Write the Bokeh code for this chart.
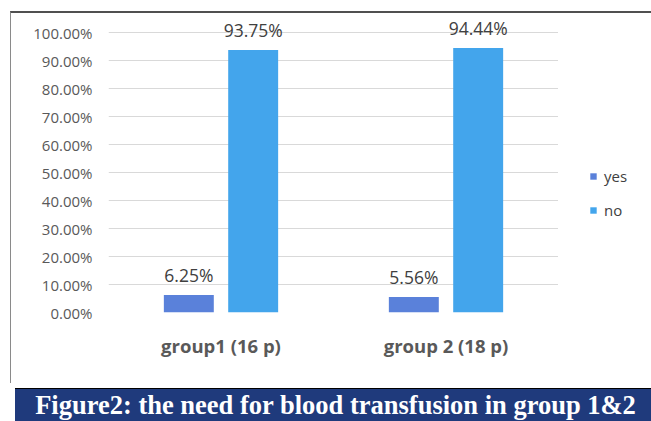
from bokeh.plotting import figure
from bokeh.models import (ColumnDataSource, FactorRange, FixedTicker, NumeralTickFormatter,
                          Legend, LegendItem, Range1d, Spacer, Div)
from bokeh.layouts import row, column
from bokeh.transform import dodge
from bokeh.core.properties import value
from bokeh.embed import file_html
from bokeh.resources import INLINE

# ---- data ----
groups = ["group1 (16 p)", "group 2 (18 p)"]
series = ["yes", "no"]
yes_vals = [0.0625, 0.0556]
no_vals = [0.9375, 0.9444]
y_ticks = [0.0, 0.1, 0.2, 0.3, 0.4, 0.5, 0.6, 0.7, 0.8, 0.9, 1.0]
caption = "Figure2: the need for blood transfusion in group 1&amp;2"

yes_color = "#5A81DA"
no_color = "#43A5EC"

src = ColumnDataSource(dict(
    group=groups,
    yes=yes_vals,
    no=no_vals,
    yes_lbl=[f"{v * 100:.2f}%" for v in yes_vals],
    no_lbl=[f"{v * 100:.2f}%" for v in no_vals],
))

FONT = "Open Sans"

p = figure(x_range=FactorRange(*groups, range_padding=0), y_range=Range1d(0, 1.05),
           width=547, height=370, output_backend="svg", toolbar_location=None,
           min_border_left=97, min_border_right=0, min_border_top=5, min_border_bottom=71)
p.outline_line_color = None
p.background_fill_color = "white"

off = 0.143
bw = 0.222
r_yes = p.vbar(x=dodge("group", -off, range=p.x_range), top="yes", width=bw, source=src,
               fill_color=yes_color, line_color=None)
r_no = p.vbar(x=dodge("group", off, range=p.x_range), top="no", width=bw, source=src,
              fill_color=no_color, line_color=None)

for col, lbl, d in (("yes", "yes_lbl", -off), ("no", "no_lbl", off)):
    p.text(x=dodge("group", d, range=p.x_range), y=col, text=lbl, source=src,
           text_align="center", text_baseline="bottom", y_offset=-8,
           text_font=value(FONT), text_font_size="17.5px", text_color="#404040")

# axes
p.yaxis.ticker = FixedTicker(ticks=y_ticks)
p.yaxis.formatter = NumeralTickFormatter(format="0.00%")
p.yaxis.axis_line_color = None
p.yaxis.major_tick_line_color = None
p.yaxis.minor_tick_line_color = None
p.yaxis.major_tick_in = 0
p.yaxis.major_tick_out = 0
p.yaxis.major_label_standoff = 16
p.yaxis.major_label_text_font = FONT
p.yaxis.major_label_text_font_size = "15px"
p.yaxis.major_label_text_color = "#595959"

p.xaxis.axis_line_color = None
p.xaxis.major_tick_line_color = None
p.xaxis.major_tick_in = 0
p.xaxis.major_tick_out = 0
p.xaxis.major_label_standoff = 20
p.xaxis.major_label_text_font = FONT
p.xaxis.major_label_text_font_size = "18.5px"
p.xaxis.major_label_text_font_style = "bold"
p.xaxis.major_label_text_color = "#595959"

p.xgrid.grid_line_color = None
p.ygrid.grid_line_color = "#d9d9d9"
p.ygrid.grid_line_width = 1

# legend panel (separate small figure to the right of the plot area);
# its proxy bars have zero width and lie outside its visible y range
lf = figure(width=93, height=370, x_range=FactorRange(*groups), y_range=Range1d(5, 6),
            output_backend="svg", toolbar_location=None,
            min_border_left=0, min_border_right=0, min_border_top=5, min_border_bottom=71)
lf.axis.visible = False
lf.grid.visible = False
lf.outline_line_color = None
ly = lf.vbar(x="group", top="yes", width=0, source=src, fill_color=yes_color, line_color=None)
ln = lf.vbar(x="group", top="no", width=0, source=src, fill_color=no_color, line_color=None)
legend = Legend(items=[LegendItem(label=series[0], renderers=[ly]),
                       LegendItem(label=series[1], renderers=[ln])],
                location=(31, 92), glyph_width=8, glyph_height=8, label_standoff=7,
                spacing=14, padding=0, margin=0, border_line_color=None,
                background_fill_alpha=0, label_text_font=FONT, label_text_font_size="15px",
                label_text_color="#404040", label_height=20)
lf.add_layout(legend)

chart = row(p, lf, spacing=0,
            styles={"border-top": "2px solid #505050", "border-left": "1px solid #8a8a8a"})

# caption banner
b = Div(text=caption, width=641, height=37,
        styles={"background-color": "#1F3A7C", "color": "white",
                "border-top": "1px solid black",
                "font-family": "'Liberation Serif', serif", "font-weight": "bold",
                "font-size": "26.5px", "line-height": "33px", "text-align": "center",
                "white-space": "nowrap", "overflow": "hidden"})

layout = row(Spacer(width=10), column(Spacer(height=11), chart, b, spacing=0), spacing=0)

open("out.html", "w").write(file_html(layout, INLINE))
